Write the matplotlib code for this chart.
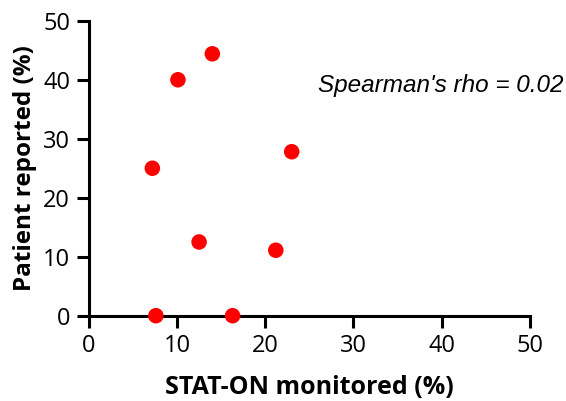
import matplotlib
matplotlib.use("Agg")
import matplotlib.pyplot as plt

stat_on = [7.6, 16.3, 7.2, 10.1, 14.0, 23.0, 12.5, 21.2]
patient = [0.0, 0.0, 25.0, 40.0, 44.4, 27.8, 12.5, 11.1]
ticks = [0, 10, 20, 30, 40, 50]

plt.rcParams['font.family'] = ['Open Sans', 'DejaVu Sans']

fig = plt.figure(figsize=(5.66, 4.01), dpi=100)
ax = fig.add_axes([0.157, 0.2127, 0.779, 0.7355])
ax.scatter(stat_on, patient, s=125, color='#ff0000', edgecolors='none', zorder=3, clip_on=False)
ax.set_xlim(0, 50)
ax.set_ylim(0, 50)
ax.set_xticks(ticks)
ax.set_yticks(ticks)
for s in ['top', 'right']:
    ax.spines[s].set_visible(False)
for s in ['left', 'bottom']:
    ax.spines[s].set_linewidth(2.2)
ax.tick_params(width=2.2, length=8.5, labelsize=17, pad=5)
ax.set_xlabel('STAT-ON monitored (%)', fontsize=18, fontweight='bold', labelpad=12)
ax.set_ylabel('Patient reported (%)', fontsize=17.5, fontweight='bold', labelpad=4)
ax.text(26.0, 39.1, "Spearman's rho = 0.02", fontsize=17.5, fontstyle='italic',
        family='Liberation Sans', va='center', ha='left', clip_on=False)
fig.savefig('out.png', dpi=100)
